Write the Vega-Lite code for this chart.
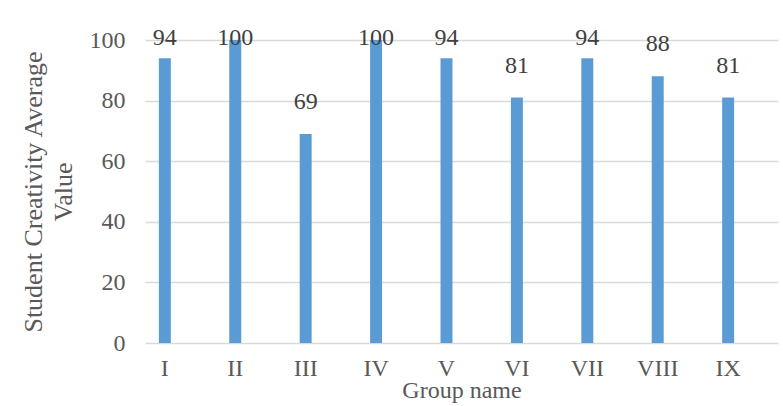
{
  "$schema": "https://vega.github.io/schema/vega-lite/v6.json",
  "width": 633,
  "height": 303,
  "autosize": {"type": "none"},
  "padding": {"left": 145, "top": 40, "right": 5, "bottom": 63},
  "background": "white",
  "config": {
    "font": "Liberation Serif",
    "view": {"stroke": null}
  },
  "data": {
    "values": [
      {"group": "I", "value": 94},
      {"group": "II", "value": 100},
      {"group": "III", "value": 69},
      {"group": "IV", "value": 100},
      {"group": "V", "value": 94},
      {"group": "VI", "value": 81},
      {"group": "VII", "value": 94},
      {"group": "VIII", "value": 88},
      {"group": "IX", "value": 81}
    ]
  },
  "encoding": {
    "x": {
      "field": "group",
      "type": "nominal",
      "sort": null,
      "scale": {"paddingInner": 0.83, "paddingOuter": 0.41, "align": 0.24},
      "axis": {
        "title": "Group name",
        "labelAngle": 0,
        "labelFont": "Liberation Serif",
        "labelFontSize": 24,
        "labelColor": "#595959",
        "labelPadding": 13,
        "ticks": false,
        "tickSize": 0,
        "domain": false,
        "titleFont": "Liberation Serif",
        "titleFontSize": 24,
        "titleFontWeight": "normal",
        "titleColor": "#595959",
        "titlePadding": -2
      }
    }
  },
  "layer": [
    {
      "mark": {"type": "bar", "color": "#5b9bd5"},
      "encoding": {
        "y": {
          "field": "value",
          "type": "quantitative",
          "scale": {"domain": [0, 100], "nice": false},
          "axis": {
            "title": ["Student Creativity Average", "Value"],
            "values": [0, 20, 40, 60, 80, 100],
            "grid": true,
            "gridColor": "#d9d9d9",
            "gridWidth": 1.5,
            "domain": false,
            "ticks": false,
            "tickSize": 0,
            "labelFont": "Liberation Serif",
            "labelFontSize": 24,
            "labelColor": "#595959",
            "labelPadding": 20,
            "titleFont": "Liberation Serif",
            "titleFontSize": 26,
            "titleFontWeight": "normal",
            "titleColor": "#595959",
            "titleLineHeight": 30,
            "titlePadding": 13
          }
        }
      }
    },
    {
      "mark": {"type": "text", "baseline": "middle", "align": "center", "dy": -2, "fontSize": 24, "font": "Liberation Serif", "color": "#404040"},
      "encoding": {
        "y": {
          "field": "value",
          "type": "quantitative",
          "scale": {"domain": [-9.9, 90.1], "nice": false, "zero": false, "clamp": true},
          "axis": null
        },
        "text": {"field": "value", "type": "quantitative"}
      }
    }
  ],
  "resolve": {"scale": {"y": "independent"}}
}
